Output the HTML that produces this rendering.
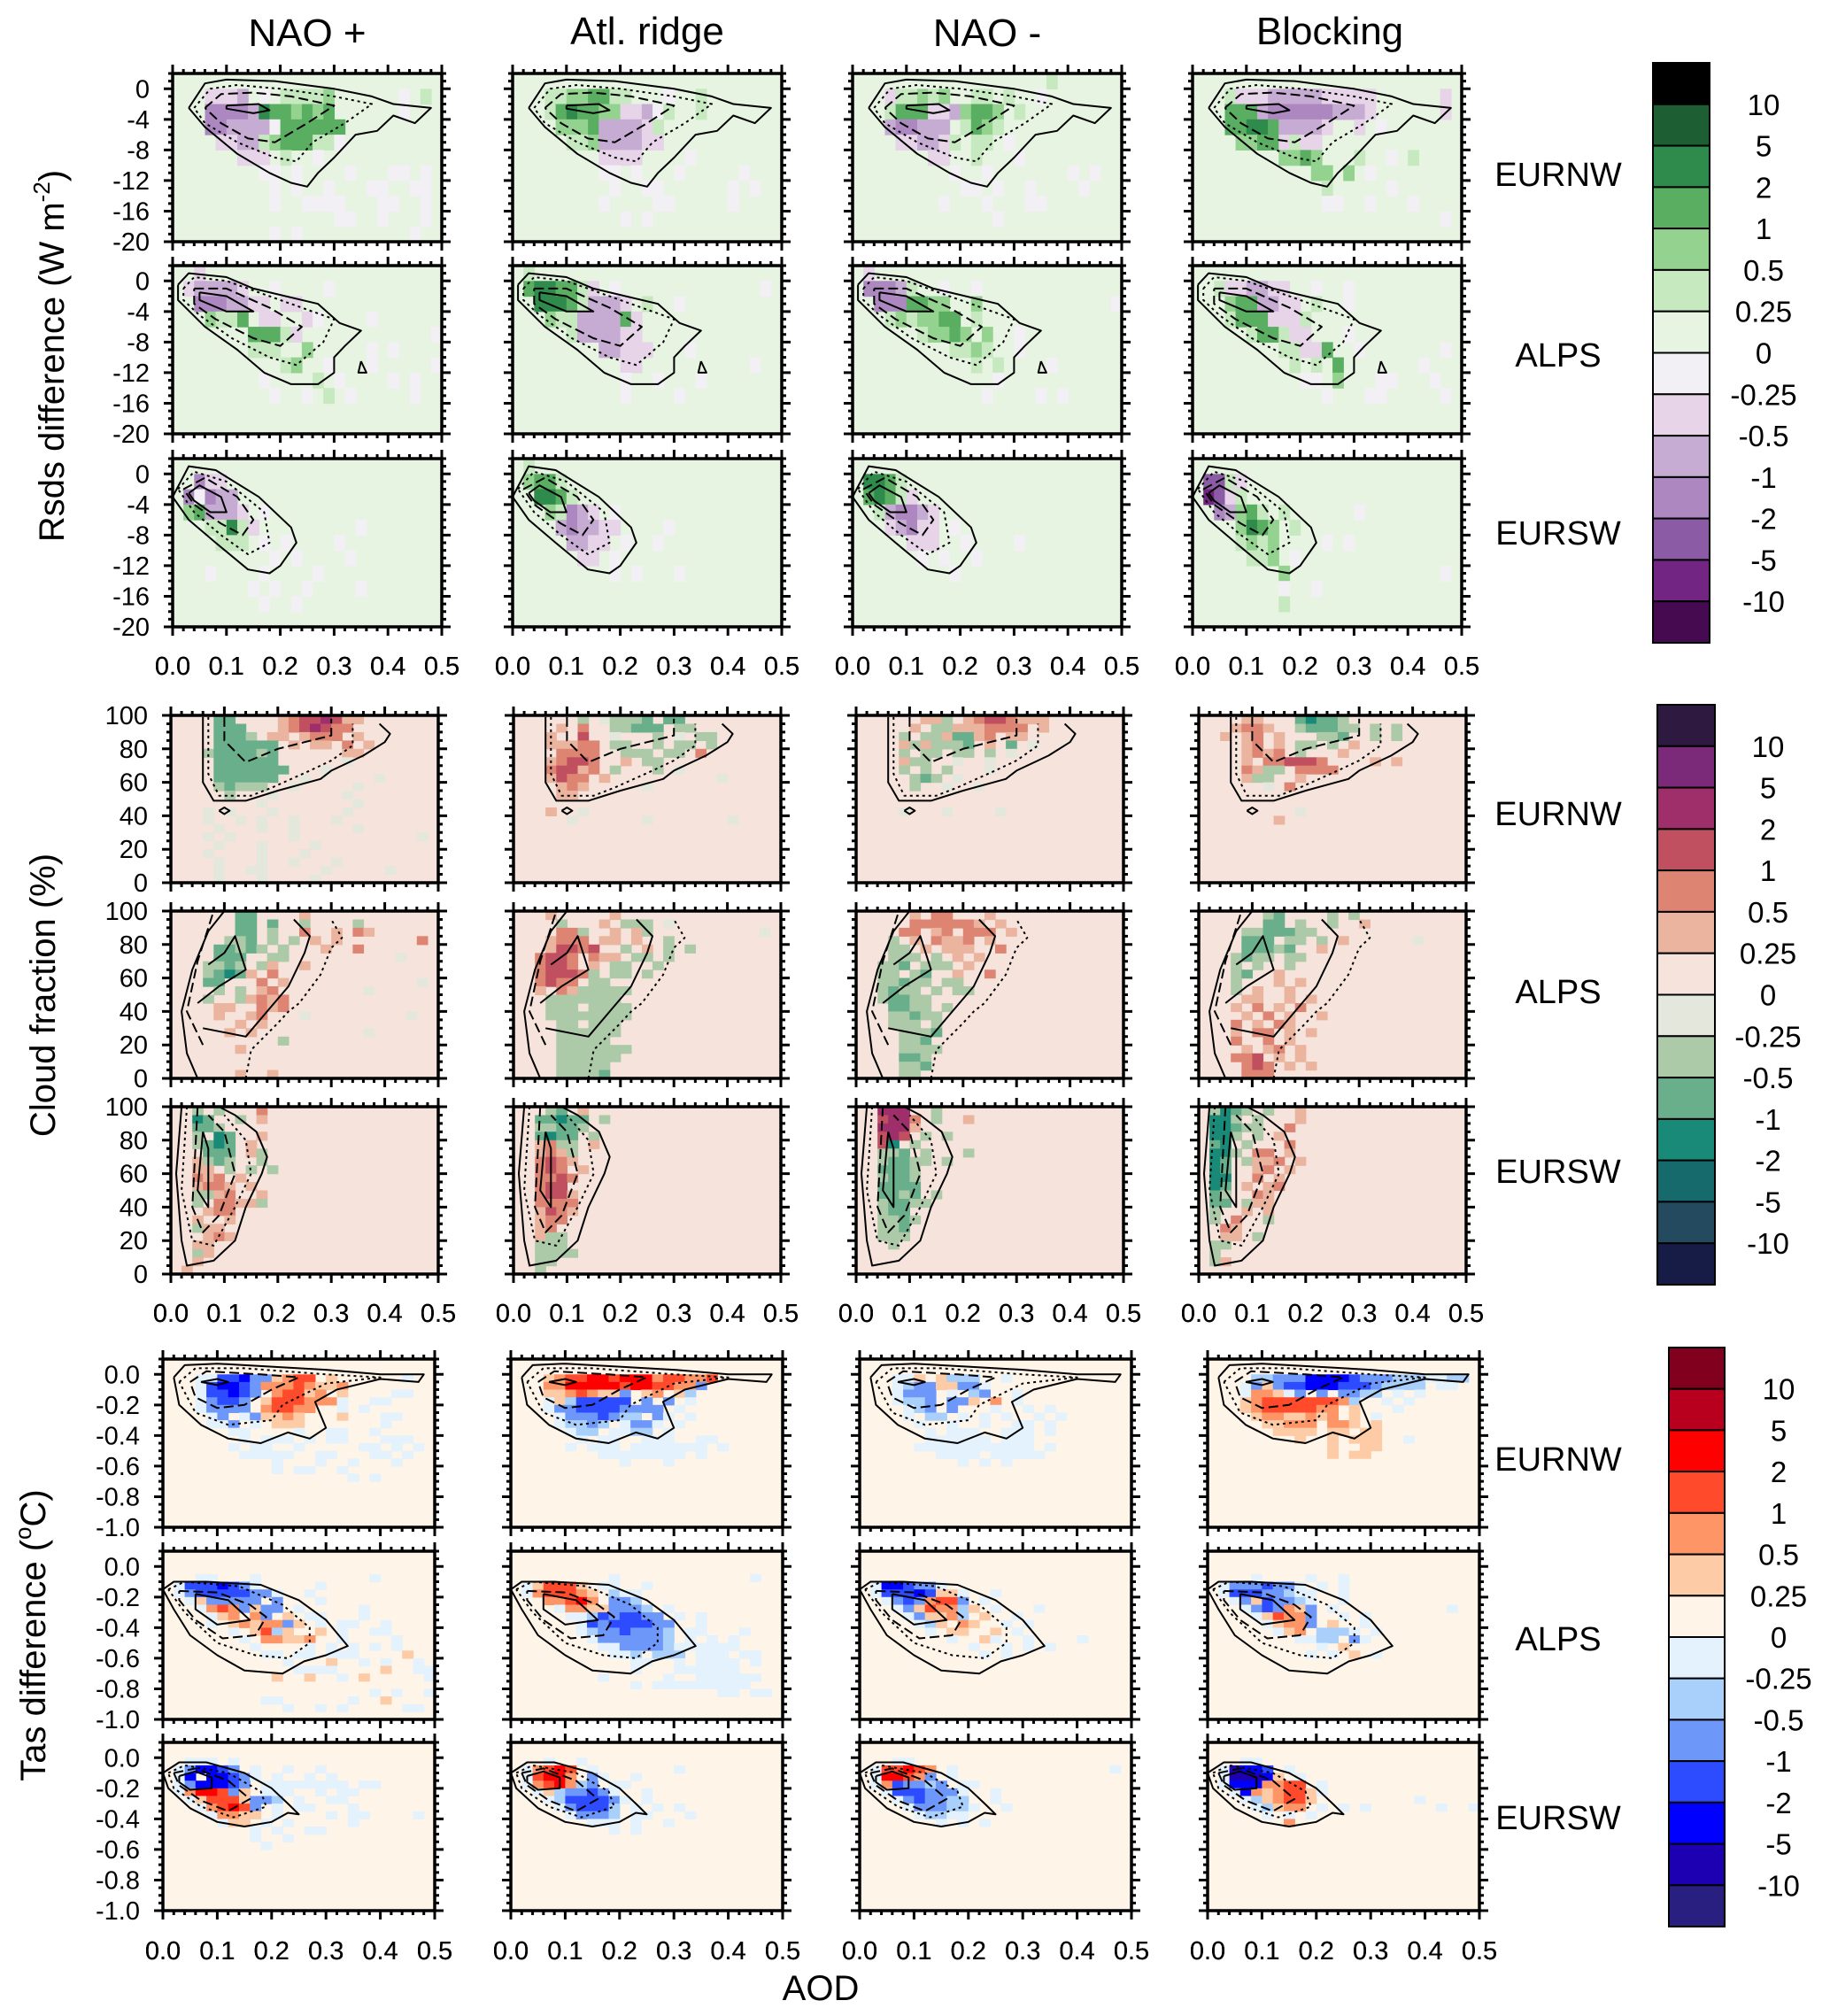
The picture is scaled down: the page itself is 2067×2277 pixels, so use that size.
<!DOCTYPE html>
<html><head><meta charset="utf-8"><style>
html,body{margin:0;padding:0;background:#fff;}
svg{display:block;font-family:"Liberation Sans",Arial,sans-serif;}
</style></head><body>
<svg id="fig" xmlns="http://www.w3.org/2000/svg" width="2067" height="2277" viewBox="0 0 2067 2277">
<rect x="0" y="0" width="2067" height="2277" fill="#fff"/>
<g font-size="44" text-anchor="middle">
<text x="347" y="52">NAO +</text>
<text x="731" y="50">Atl. ridge</text>
<text x="1115" y="52">NAO -</text>
<text x="1502" y="50">Blocking</text>
</g>
<text transform="translate(72,402) rotate(-90)" font-size="40" text-anchor="middle">Rsds difference (W m<tspan font-size="26" dy="-16">-2</tspan><tspan dy="16">)</tspan></text>
<text transform="translate(62,1124) rotate(-90)" font-size="40" text-anchor="middle">Cloud fraction (%)</text>
<text transform="translate(51,1847) rotate(-90)" font-size="40" text-anchor="middle">Tas difference (<tspan font-size="26" dy="-16">o</tspan><tspan dy="16">C)</tspan></text>
<text x="927" y="2259" font-size="40" text-anchor="middle">AOD</text>
</svg>
<script>
const codeValues = {K:12,'5':7,'4':3,'3':1.5,'2':0.75,'1':0.35,'.':0.1,'o':-0.1,'a':-0.35,'b':-0.75,'c':-1.5,'d':-3,'e':-7,'f':-12};
const levelBounds = [10,5,2,1,0.5,0.25,0,-0.25,-0.5,-1,-2,-5,-10];
const levelLabels = ['10','5','2','1','0.5','0.25','0','-0.25','-0.5','-1','-2','-5','-10'];
const aodTicks = [0,0.1,0.2,0.3,0.4,0.5];
const aodTickLabels = ['0.0','0.1','0.2','0.3','0.4','0.5'];
const rsdsTicks = [0,-4,-8,-12,-16,-20];
const rsdsTickLabels = ['0','-4','-8','-12','-16','-20'];
const cloudTicks = [100,80,60,40,20,0];
const cloudTickLabels = ['100','80','60','40','20','0'];
const tasTicks = [0,-0.2,-0.4,-0.6,-0.8,-1.0];
const tasTickLabels = ['0.0','-0.2','-0.4','-0.6','-0.8','-1.0'];
const regions = ['EURNW','ALPS','EURSW'];
const regimes = ['NAO+','Atl. ridge','NAO-','Blocking'];

const rsdsEURNW_naoP = [".........................","...aaab.o.11112......o.1.","...ccccb4332323......o...","...ccbbbbo333333.........","....aabb1233311o.........","......aaa.1..o...........","........oo.o....o...oo.o.",".........o.o..o...oo..oo.",".........o..oooo...oo..o.","...............oo..o...o.",".........o.o..........o.."];
const rsdsEURNW_atl = [".........................","...11223311...o..1.......","...1343322aabo1..1.......","....2223bbbba1...........",".....112bbbbaa...........","........aaaa....o........","........oo.o...o.....o...",".........o..oo......o.o..","........o....oo.....o....","..........o.o............"];
const rsdsEURNW_naoM = ["..................1......","...a11212..11.1..o.......","...1333aab2332.1.........","...bccbbb.1321...........","....aabba1.11.o..........",".......aa..1...o.........",".........o..o.......o.o..","..........oo.o..o....o...","........o...o...oo.......",".............o..........."];
const rsdsEURNW_blk = [".........................","...1aaabbbbbaaaaa......a.","...333bccccccbbba......a.","...33443bbbba..a.o.......","....2233a1aa.............","........2232...1..o.1....","...........22.2.o........","............1.....o......","............oo..o...o....",".......................o."];
const rsdsALPS_naoP = ["..a......................",".abbbba..o....o..........","..cccbbaa.aa.............","...2113.aa..ao....o......",".......3331a............o",".......111..2.....o.o....","..........12..o...o.....o","........o....1.o....o.o..",".........o..o.1.o.....o.."];
const rsdsALPS_atl = [".1.......................",".344331a.o.............o.","..44431bbba.1..o.........","...211bbbb3a.............",".....1bbbbaa.............","........bbaaa...o........","..........aa..........o..","..........o..o...o.......","..........o....o........."];
const rsdsALPS_naoM = [".a.......................",".cccb1..o..o.............","..ccc3322..2............o","...1212233.1.............","......12232.2..o.........",".........1121..o.........","...........1.1....o......",".............o...........","............o....o.o....."];
const rsdsALPS_blk = [".........................","..1aabbaa..o..o..........","...233bbaa.1..o..........","...1333aaa1..............",".....1331aa...o..........","........11aa3..o.......o.",".........1.1.3.......o...","..........oo.2...oo...o..","............o...oo.....o."];
const rsdsEURSW_naoP = [".........................","..caa....................",".cocbb...................",".23bbba.o................","...1141a.........o.......","....111.o.o....o.........",".........o.o....o........","...o....o....o...........",".......o.o..o....o.......","........o..o............."];
const rsdsEURSW_atl = [".1.......................",".2331....................","..4431...................","...21cba.o...............","....bcbbaa....o..........",".....bbaa.o..o...........","......aa.o...............",".........o.o...o........."];
const rsdsEURSW_naoM = [".........................",".4431....................",".3431a...................","..1bccba.................","...abcaa.o...............",".....aaa..o....o.........","......o.o..o.............",".........o..............."];
const rsdsEURSW_blk = [".........................",".dd1a....................",".eda1....................","..cb231.1......o.........","....2432.1...............","....1212....o.o..........",".....112.o...............","........2..............o.","........o..o.............","........1................"];

const cloudEURNW_naoP = ["....bb....12334311.......","....bbb...1234322........","....bbba.11.1222.1.......","....bbbbbb.1.11.2.1......","...abbbbab......11.......","....bbbbbb......o........","....bbbbbbb...o..........","....bbbbbb..o......o.....","....abaaa..o.....o.......",".....a...o......o........","........o........o.......","...o.o...o......o........","...o..o.o..o...o.........","....o...o..o.....o.......","...o.o.....o...........o.","....o...o....o...........","...o....o...o............","....o...o..o...o.........","....o..oo.....o.....o....","....o...o....o..........."];
const cloudEURNW_atl = ["......a.oaaab.bb.........","....1.2..aabbb.aa........","...1..3..o...a.o.aa......","...11122.aa..a.aa.a......","....2222..aaa.aa.2.......","...12332..1.aa...........","...23312.a...a.o.........","...1322.1..........o.....","....121.....o............","....11...................",".........................","...1..o..................",".....o......o.......o...."];
const cloudEURNW_naoM = ["......11a.12332111.......",".....1.aa1112222.1.......","....a.aa1bb12.11.........","....1a1aaab.1.b.o........","....a.aa.aa.a.o..........","....1aa..o..o............","....a.a.a...o............",".....aba.o...............",".....a..o..o.............",".........................",".........................","....o...o....o..........."];
const cloudEURNW_blk = ["....11...bcbba...........","...1221..abbbaa.a.a......","..1.12.1...aab..a.a......","....12.1.aa.a.1..........","....1212.a...1...........","....1.223332....1.1......","....21aa.2222............","....1aa..1...............","......o.2................",".........................",".........................",".........o...............",".......1................."];
const cloudALPS_naoP = ["......bb....1............","......bb.b..a....a.......","......bb.a..2..1.21......",".....aab.a.a.1.1.......2.","....bbaba.a...1..2.......","....bbb..aa..........o...","...aaba.a1..1............","...abcb1.2...............","...bb...2.1............o.","....a.a.12........o......","...a..a1212..............","....11..212..............","....1..12...o.........o..","......1.1................",".....1.1..........o......","..........a..............","......1..................",".........................",".........................","......1..1..............."];
const cloudALPS_atl = ["...1.....1...............","....a...1.aaa.o..........","....22a..1.1a..........o.","...1222.11.1..a..........","...13323..a.1.a.a........","..2332.211.aa.a..........","..2332.1.aa..a...........","..23332a.aa.a............","..2322.aa................","..1.21aaaaa..............","...aaaaaaa...............","...aaa.aaaa..............","...aaaaaaaa..............","....aa.aaa...............","....aaaaaa...............","....aaaaa................","....aaaaaaa..............","....aaaaaa...............","....aaaaa................","....aaaab................"];
const cloudALPS_naoM = [".....1.22...1............",".....2222221.1...........","....22.12.222.1..........","...a.1.2112.1............","...aa.1.111..2...........","...aaa.a.1.1.............","..aab.aaa.1..............","..aa.ab..1..2............","..aabaa.aa...............","..abaa.a.aa..............","..abbaa..................","...bbaa.a................","...aabaa.................","...aaa.a.................","....aaab.................","....aab..................","....aaaa.................","....bba..................","....aab..................","....aa..................."];
const cloudALPS_blk = ["......ab....a.a..........","......bb.a..a..1.........","....aabbbaa..............","....bbb.aa.a.1......o....","....bbbab..1.............","...abaa.aa...............","...a.a..a................","...ab..1.................","...a...1.1...............","...a.1..1................","....11..1.1..............","...1.2.1.2...............","....1.2.1..1.............","...2.1.21................","...1.22.1.1..............","...2..2.1................","....1.12.1...............","...223.1.1...............","....232.1.1..............","....222.................."];
const cloudEURSW_naoP = ["..a.a...2................","..cb..a.1................","..bba....................","..a.cb..1................","..abcb.1.................","...bbb.1a................","..1aba..a................","..11.a.a.a...............","..212.1..................","..1221.1.................","..aa12..1................","..a.2211a................","...122...................","..1..1...................","..a11....................","...121...................","..11.....................","..a1.....................","..1......................",".1......................."];
const cloudEURSW_atl = ["...ab.1..................","..bbcbb.a................","..aabba..................","..bcbb.a.................","..12aa.1.................","..121a...................","..2321...................","..232.1..................","..2232...................","..233....................","..2331...................","..2222...................","..1321...................","..122....................","..12.....................","..1aa....................","..aaa....................","..aaaa...................","..aa.....................","..a......................"];
const cloudEURSW_naoM = ["..444..a.................","..3442.a..1..............","..4441...................","..343.a.a................","..3c.a...................","..aab.a...a..............","..abbaa.a................","..bbba...................","..abba...................","..bbbb...................","..bbab.a.................","..abbaa..................","..abb....................","..aaba...................","..aab....................","..aaa....................","...a....................."];
const cloudEURSW_blk = [".acba.a..1...............",".cca.a...1...............",".ccbaa..2................",".cca.a.1.................",".bc.a...2................",".cca.22.1................",".cb.a112.1...............",".cb..12.1................",".cc..2.1.................",".cb.1.12.................",".ba..21..................",".bb.a11..................",".a..1.1..................",".a.2..a..................","..21.....................","..11.a...................",".aa......................",".a.......................",".a1......................"];

const tasEURNW_naoP = [".........................",".........................","...ooccdbb1233.1......o..","...ocddcb22232112........","...occdcb.23312.1....oo..","...obccb.1333222o..oo....","...obbbb.23322..o.o......","....ob.ob1121...1...oo...","....oob.o.111.......o....","......oo....o..oo..o.....",".......o.ooo.o.oo...ooo..","......o.oo..o.....oo.o.o.",".......ooooo..oo...oo.o..","..........o...o..o...o...","..........o.oo..o........",".................o.o....."];
const tasEURNW_atl = [".........................",".........................","...1233443444233223......","...22444443443322b.......","...1123211b.12.1a........","...o1accccc.b.b.o........","...obbccccbbbb.o.........","....obbbcbaa.bo.o........","....oaaba.obbo.o.........",".....oaa.ooaa.o..........","......o.oo..ooo..oo......",".....o.ooo.ooooooo.o.....","........oooooooo.o.......","..........o...o.........."];
const tasEURNW_naoM = [".........................",".........................","...oo1.1aaa..o...........","...oabb11bbo.............","...obbb.o.ab..o..........","...oaab.bb1.2.o..........","....oab.b...o..o.o.......","....o.aa.o.o.o..o.o......",".....o..o..o..oo.o.......","......o.ooo..ooo.o.......","......oooooo.ooo.........",".....ooooooooooo.o.......",".......oooo.ooooo........",".........o.o.o..........."];
const tasEURNW_blk = [".........................",".........................","....aabbbddddcbbbaaaooaa.","...ob1bccdddcccbaaaa.oo..","...o221ob.b.bbaa.o.o.....","...1233333332a..o.o......","...123333322.1...o.......","....12211212.1.o.........",".....11222.221.1.........","......1111.11.11.........","........1..1.111..o......","...........1..11.........","...........1.11..........",".........................o"];
const tasALPS_naoP = [".........................",".........................",".........................","...oo...o..........o.....",".occcdcbo.....o..........",".obcccccbbo..o...........","..o1bbbbb.b...o..........","...o232b1bb.o.....o......","....o12.2b.1.oo...o......","....o.12122b1.o.oo..o....","......o.13a1..1.o..oo....",".......o.22112..o....o...","........o....o.o.o.o.o...",".........oo.oo.ooo....1..","...........o...1..o.o..o.","............oooo....1..oo","..........1..1..o.1.....o",".........................","...................o.o..o",".........oo......o..1....","...........o..o.o.....oo."];
const tasALPS_atl = [".........................",".........................",".........................",".........o............o..",".o13331.oo..o............",".o233321.aoo.............","...22342.bba.............","....o2211bbba.o..........",".....ooacbccbb.o.o.......","......ocbccccbb..o.......","......oabbcbbba.oo...o...",".......obbbbbba.o.o.o....","........oobbbbaoooooo....",".........ooa.aaa.ooo.oo..","...........oo..o.oooo.o..","...........o...oooooo....","........o.....o..oooooo..","...........o.ooooooooo...","...................oo.oo."];
const tasALPS_naoM = [".........................",".........................",".........................",".........................",".oddcbbo.................",".occcdc11o..o............","..obcb233b.o.............","...ob1322a1.o...o........","....ob112a.1..o..........",".....oa1.21..o.o.........","......o.11..1.o..........","........o..1o..o....o....","..........o..o.o.o.......","...........o.o..........."];
const tasALPS_blk = [".........................",".........................",".........................","....o....o..o............",".obbbcbbo.o.o............",".occcbbaoo..o............","..ob1cbbao..o............","...obcb21b.o..........o..","....o1322b..o.o..........",".....o122b.1..o..........","......o12.aaao.o.........","........ooaa.bo..........","..........o.1............",".........o.o.1.o........."];
const tasEURSW_naoP = [".........................",".........................","..ooo.o..................",".obddcb.o..o..o..........",".od.ddcbo.o..o.o.........",".obdddcb.oooooooo.oo.....",".o2443b1.ooo..o.oo.......","..o13331bba.o..oo........","...o2343b.o.oo...o.......","....o2211.o....o.oo....o.",".....o11.o.o.....o.......","........o.o..oo..........","........o..o.............",".........o..............."];
const tasEURSW_atl = [".........................",".........................","...o..o..................",".o2343.o.......o.........",".o3442.bo..o.............",".o2342ab.oo..............","..o1abbcbo..o............","...oaccccbo.o............","....obccca.o.o.o.........",".....obbba.oo...o........",".......ooo.o..o..........",".........o.o............."];
const tasEURSW_naoM = [".........................",".........................","...oo....................",".o33432.o..............o.",".o4432b.o................",".o2cbbab.oo..............","..occcbbbo..o............","...obcbbaa..o............","....obbbaao..o...........",".....oaaoo...............",".......o.o.o............."];
const tasEURSW_blk = [".........................",".........................","...oo....................",".oeddc.o.................",".oeeed1.o................",".oddd2233.o..............","..od212331o..............","...oa12331.........o.....","....oa122.o.o.o......o..o",".....o.o.o...............",".......2................."];

const rsdsContEURNW = [
 [[0.03,-2.5],[0.06,0.7],[0.1,1.2],[0.19,1],[0.3,0],[0.37,-1],[0.41,-2],[0.48,-2.5],[0.45,-4.5],[0.41,-3.5],[0.38,-5.5],[0.34,-6],[0.3,-9],[0.27,-11],[0.25,-12.8],[0.22,-12.3],[0.18,-11],[0.12,-8.5],[0.06,-5],[0.03,-2.5]],
 [[0.04,-2.5],[0.07,0],[0.12,0.5],[0.2,0],[0.3,-1],[0.37,-2],[0.32,-4.5],[0.26,-7],[0.23,-9.5],[0.19,-9],[0.12,-7],[0.06,-4.5],[0.04,-2.5]],
 [[0.06,-2.5],[0.09,-0.7],[0.15,-0.5],[0.22,-1],[0.3,-2.2],[0.25,-4.5],[0.19,-7],[0.14,-6.5],[0.09,-4.5],[0.06,-2.5]],
 [[0.1,-2.2],[0.16,-2],[0.18,-2.8],[0.15,-3.2],[0.1,-2.6],[0.1,-2.2]]];
const rsdsContALPS = [
 [[0.01,-0.5],[0.03,1],[0.1,0.5],[0.15,-1],[0.27,-3],[0.31,-5.5],[0.35,-6.5],[0.32,-8.5],[0.3,-10],[0.3,-12],[0.27,-13.5],[0.22,-13.5],[0.17,-12],[0.12,-9],[0.06,-6],[0.01,-2.5],[0.01,-0.5]],
 [[0.02,-1],[0.04,0.5],[0.1,0],[0.2,-2.5],[0.3,-5],[0.28,-8],[0.23,-11],[0.18,-10],[0.11,-7.5],[0.05,-4.5],[0.02,-2.5],[0.02,-1]],
 [[0.04,-1],[0.1,-1],[0.18,-3.5],[0.24,-6],[0.2,-8.5],[0.15,-7.5],[0.08,-5],[0.04,-3],[0.04,-1]],
 [[0.05,-1.5],[0.1,-2],[0.15,-4],[0.1,-4],[0.05,-2.5],[0.05,-1.5]],
 [[0.35,-10.5],[0.36,-12],[0.345,-12],[0.35,-10.5]]];
const rsdsContEURSW = [
 [[0.0,-3],[0.03,1],[0.08,0.5],[0.16,-3],[0.22,-7],[0.23,-9],[0.2,-12],[0.18,-13],[0.14,-12.5],[0.08,-9],[0.03,-6],[0.0,-3]],
 [[0.01,-2],[0.04,0.3],[0.1,-1],[0.17,-5],[0.18,-9],[0.14,-10.5],[0.09,-8],[0.04,-5],[0.01,-2]],
 [[0.02,-2],[0.06,-0.5],[0.12,-3],[0.15,-6],[0.13,-8],[0.09,-6.5],[0.04,-4],[0.02,-2]],
 [[0.03,-2.5],[0.05,-1.5],[0.09,-3],[0.1,-5],[0.07,-5],[0.04,-3.5],[0.03,-2.5]]];
const cloudContEURNW = [
 [[0.06,99],[0.06,60],[0.08,49],[0.14,49],[0.2,55],[0.28,62],[0.3,67],[0.36,76],[0.4,84],[0.41,89],[0.39,95]],
 [[0.07,99],[0.07,65],[0.09,52],[0.15,52],[0.19,57],[0.26,67],[0.3,73],[0.34,82],[0.34,95]],
 [[0.1,99],[0.1,85],[0.14,72],[0.2,80],[0.25,84],[0.3,88],[0.3,98]],
 [[0.09,43],[0.1,45],[0.11,43],[0.1,41],[0.09,43]]];
const cloudContALPS = [
 [[0.05,0],[0.03,15],[0.02,40],[0.04,65],[0.07,88],[0.1,100]],
 [[0.14,0],[0.15,17],[0.2,33],[0.22,40],[0.24,45],[0.28,62],[0.3,78],[0.32,84],[0.3,95]],
 [[0.06,20],[0.03,40],[0.05,70],[0.08,100]],
 [[0.06,30],[0.14,25],[0.18,40],[0.22,55],[0.25,75],[0.26,85],[0.23,95]],
 [[0.05,45],[0.09,55],[0.14,65],[0.12,85],[0.1,75],[0.07,68]]];
const cloudContEURSW = [
 [[0.02,100],[0.01,60],[0.02,20],[0.03,5],[0.08,8],[0.12,20],[0.14,40],[0.17,60],[0.18,70],[0.16,85],[0.12,95],[0.09,100]],
 [[0.03,100],[0.02,50],[0.04,20],[0.08,17],[0.12,40],[0.15,60],[0.14,80],[0.1,95]],
 [[0.05,100],[0.04,40],[0.06,25],[0.09,35],[0.12,60],[0.1,85],[0.07,95]],
 [[0.06,85],[0.05,50],[0.07,40],[0.07,75],[0.06,85]]];
const tasContEURNW = [
 [[0.02,-0.02],[0.04,0.06],[0.1,0.07],[0.2,0.05],[0.3,0.03],[0.4,0.0],[0.48,0.0],[0.47,-0.05],[0.4,-0.03],[0.32,-0.1],[0.28,-0.18],[0.3,-0.35],[0.27,-0.42],[0.23,-0.38],[0.18,-0.45],[0.12,-0.42],[0.07,-0.33],[0.03,-0.2],[0.02,-0.02]],
 [[0.03,-0.05],[0.06,0.04],[0.15,0.04],[0.3,0],[0.4,-0.02],[0.3,-0.06],[0.22,-0.2],[0.2,-0.3],[0.12,-0.33],[0.06,-0.25],[0.03,-0.05]],
 [[0.05,-0.05],[0.08,0.02],[0.18,0.0],[0.25,-0.02],[0.2,-0.1],[0.15,-0.2],[0.1,-0.22],[0.06,-0.15],[0.05,-0.05]],
 [[0.07,-0.05],[0.1,-0.03],[0.12,-0.05],[0.1,-0.07],[0.07,-0.05]]];
const tasContALPS = [
 [[0.0,-0.15],[0.02,-0.1],[0.08,-0.1],[0.18,-0.12],[0.25,-0.22],[0.3,-0.35],[0.34,-0.52],[0.3,-0.58],[0.26,-0.62],[0.22,-0.7],[0.15,-0.68],[0.1,-0.58],[0.05,-0.45],[0.02,-0.28],[0.0,-0.15]],
 [[0.01,-0.15],[0.04,-0.1],[0.14,-0.13],[0.22,-0.25],[0.27,-0.4],[0.27,-0.5],[0.23,-0.6],[0.17,-0.58],[0.1,-0.5],[0.04,-0.3],[0.01,-0.15]],
 [[0.03,-0.16],[0.1,-0.17],[0.16,-0.25],[0.19,-0.33],[0.17,-0.45],[0.11,-0.47],[0.06,-0.35],[0.03,-0.22],[0.03,-0.16]],
 [[0.06,-0.18],[0.12,-0.22],[0.16,-0.35],[0.1,-0.38],[0.06,-0.28],[0.06,-0.18]]];
const tasContEURSW = [
 [[0.0,-0.1],[0.03,-0.03],[0.08,-0.03],[0.15,-0.1],[0.2,-0.2],[0.23,-0.3],[0.25,-0.37],[0.23,-0.36],[0.2,-0.42],[0.15,-0.45],[0.1,-0.42],[0.05,-0.33],[0.01,-0.2],[0.0,-0.1]],
 [[0.01,-0.1],[0.04,-0.05],[0.12,-0.1],[0.18,-0.22],[0.19,-0.32],[0.13,-0.39],[0.07,-0.32],[0.02,-0.2],[0.01,-0.1]],
 [[0.02,-0.1],[0.06,-0.07],[0.12,-0.15],[0.16,-0.27],[0.12,-0.35],[0.07,-0.28],[0.03,-0.18],[0.02,-0.1]],
 [[0.03,-0.12],[0.06,-0.09],[0.09,-0.13],[0.09,-0.2],[0.05,-0.21],[0.03,-0.16],[0.03,-0.12]]];
const contourStyles = ['', '3,4', '11,5', '', ''];

const rsdsColors = ['#000000','#1d5e33','#2e8b4b','#5aae61','#94d38f','#c7e9c0','#e6f4e1','#f3f0f5','#e7d4e8','#c6abd3','#ad88c0','#8b5ca5','#732583','#450a4f'];
const cloudColors = ['#2e1a40','#7b2a7a','#9e2f6a','#c0505f','#de8472','#eab49e','#f6e4dc','#e4e7dc','#acc9a8','#6aaf8c','#1a8a78','#176a6b','#244a5f','#161c45'];
const tasColors = ['#80001e','#b8001e','#ff0000','#ff4b2b','#fd9566','#fdcba6','#fef4e8','#e3f2fd','#a9d0fb','#6d98fa','#2e4cff','#0000ff','#1c00b2','#281f80'];

const layout = [
 {key:'rsds', cols:[195,579,963,1347], rows:[83,300,518], w:304, h:190, ymin:-20, ymax:2, yTicks:rsdsTicks, yLabels:rsdsTickLabels, yMinor:1, colors:rsdsColors,
  data:[[rsdsEURNW_naoP,rsdsEURNW_atl,rsdsEURNW_naoM,rsdsEURNW_blk],[rsdsALPS_naoP,rsdsALPS_atl,rsdsALPS_naoM,rsdsALPS_blk],[rsdsEURSW_naoP,rsdsEURSW_atl,rsdsEURSW_naoM,rsdsEURSW_blk]],
  nrows:11, contours:[rsdsContEURNW,rsdsContALPS,rsdsContEURSW], cb:{x:1867,y:71,w:64,h:655,lx:1992}, regionY:[196,400,601], xlabY:762},
 {key:'cloud', cols:[193,580,967,1354], rows:[808,1029,1250], w:302, h:189, ymin:0, ymax:100, yTicks:cloudTicks, yLabels:cloudTickLabels, yMinor:5, colors:cloudColors,
  data:[[cloudEURNW_naoP,cloudEURNW_atl,cloudEURNW_naoM,cloudEURNW_blk],[cloudALPS_naoP,cloudALPS_atl,cloudALPS_naoM,cloudALPS_blk],[cloudEURSW_naoP,cloudEURSW_atl,cloudEURSW_naoM,cloudEURSW_blk]],
  nrows:20, contours:[cloudContEURNW,cloudContALPS,cloudContEURSW], cb:{x:1872,y:796,w:65,h:655,lx:1997}, regionY:[918,1119,1322], xlabY:1493},
 {key:'tas', cols:[184,577,971,1364], rows:[1535,1752,1968], w:307, h:190, ymin:-1.0, ymax:0.1, yTicks:tasTicks, yLabels:tasTickLabels, yMinor:0.05, colors:tasColors,
  data:[[tasEURNW_naoP,tasEURNW_atl,tasEURNW_naoM,tasEURNW_blk],[tasALPS_naoP,tasALPS_atl,tasALPS_naoM,tasALPS_blk],[tasEURSW_naoP,tasEURSW_atl,tasEURSW_naoM,tasEURSW_blk]],
  nrows:22, contours:[tasContEURNW,tasContALPS,tasContEURSW], cb:{x:1885,y:1522,w:63,h:654,lx:2009}, regionY:[1647,1850,2052], xlabY:2213}
];

const NS='http://www.w3.org/2000/svg';
const svg=document.getElementById('fig');
function mk(tag, attrs, parent){const e=document.createElementNS(NS,tag);for(const k in attrs)e.setAttribute(k,attrs[k]);parent.appendChild(e);return e;}
function levelIndex(v){let i=0;for(const b of levelBounds){if(v<b)i++;}return i;}

let clipId=0;
layout.forEach(function(g){
  const grp=mk('g',{},svg);
  
  
  g.rows.forEach(function(top,ri){
    g.cols.forEach(function(left,ci){
      const w=g.w,h=g.h;
      const xs=function(a){return left+a/0.5*w;};
      const ys=function(v){return top+(g.ymax-v)/(g.ymax-g.ymin)*h;};
      const pg=mk('g',{},grp);
      
      
      clipId++;
      const cp=mk('clipPath',{id:'c'+clipId},pg);
      mk('rect',{x:left,y:top,width:w,height:h},cp);
      const inner=mk('g',{'clip-path':'url(#c'+clipId+')'},pg);
      const bg=mk('rect',{x:left,y:top,width:w,height:h,fill:g.colors[6]},inner);
      
      
      const rowsData=g.data[ri][ci];
      const cellVal=(g.ymax-g.ymin)/g.nrows;
      rowsData.forEach(function(str,r){
        for(let c=0;c<str.length&&c<25;c++){
          const ch=str[c];
          if(ch==='.')continue;
          const v=codeValues[ch];
          if(v===undefined)continue;
          const a0=c*0.02, vTop=g.ymax-r*cellVal;
          const x0=xs(a0), x1=xs(a0+0.02), y0=ys(vTop), y1=ys(vTop-cellVal);
          const cell=mk('rect',{x:x0.toFixed(1),y:y0.toFixed(1),width:(x1-x0+0.6).toFixed(1),height:(y1-y0+0.6).toFixed(1),fill:g.colors[levelIndex(v)]},inner);
          
          
        }
      });
      g.contours[ri].forEach(function(line,li){
        const d=line.map(function(p,i){return (i?'L':'M')+xs(p[0]).toFixed(1)+','+ys(p[1]).toFixed(1);}).join('');
        const attrs={d:d,fill:'none',stroke:'#000','stroke-width':2,'stroke-linejoin':'round'};
        const st=contourStyles[Math.min(li,contourStyles.length-1)];
        if(st)attrs['stroke-dasharray']=st;
        const pth=mk('path',attrs,inner);
        
        
      });
      const fr=mk('rect',{x:left,y:top,width:w,height:h,fill:'none',stroke:'#000','stroke-width':3.5},pg);
      
      
      let d='';
      for(let k=0;k<=25;k++){const x=xs(k*0.02);const L=(k%5===0)?10:5;d+='M'+x+','+top+'v'+(-L)+'M'+x+','+(top+h)+'v'+L;}
      const nMin=Math.round((g.ymax-g.ymin)/g.yMinor);
      for(let k=0;k<=nMin;k++){const v=g.ymin+k*g.yMinor;const y=ys(v);let major=g.yTicks.some(function(t){return Math.abs(t-v)<1e-6;});const L=major?10:5;d+='M'+left+','+y+'h'+(-L)+'M'+(left+w)+','+y+'h'+L;}
      const tk=mk('path',{d:d,stroke:'#000','stroke-width':3,fill:'none'},pg);
      
      
      aodTicks.forEach(function(t,i){
        const tx=mk('text',{x:xs(t),y:g.xlabY,'font-size':29,'text-anchor':'middle'},pg);
        tx.textContent=aodTickLabels[i];
        
        
      });
      if(ci===0){
        g.yTicks.forEach(function(t,i){
          const ty=mk('text',{x:left-26,y:ys(t)+10,'font-size':29,'text-anchor':'end'},pg);
          ty.textContent=g.yLabels[i];
          
          
        });
      }
    });
    const rl=mk('text',{x:1760,y:g.regionY[ri]+14,'font-size':38,'text-anchor':'middle'},grp);
    rl.textContent=regions[ri];
    
    
  });
  const cb=g.cb;
  const cbg=mk('g',{},grp);
  
  
  const bh=cb.h/14;
  g.colors.forEach(function(col,i){
    const r=mk('rect',{x:cb.x,y:(cb.y+i*bh).toFixed(1),width:cb.w,height:bh.toFixed(1),fill:col,stroke:'#000','stroke-width':2},cbg);
    
    
  });
  levelLabels.forEach(function(lb,i){
    const t=mk('text',{x:cb.lx,y:(cb.y+(i+1)*bh+12).toFixed(1),'font-size':33,'text-anchor':'middle'},cbg);
    t.textContent=lb;
    
    
  });
});
</script>
</body></html>
